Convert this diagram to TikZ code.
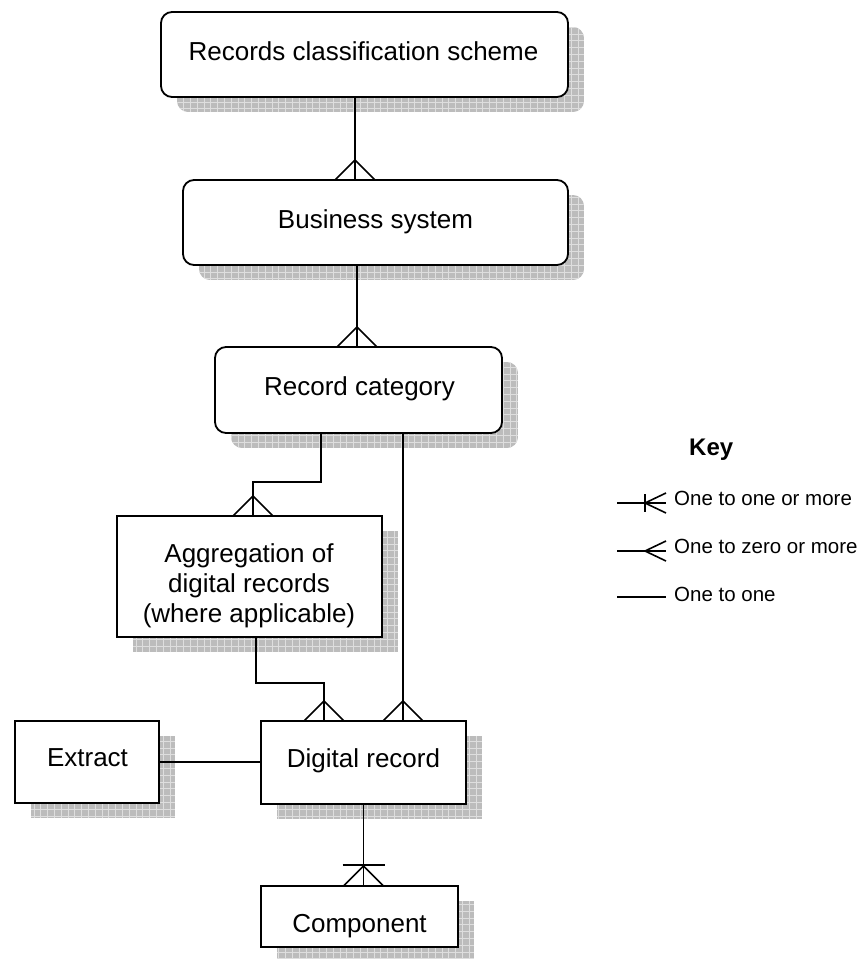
\documentclass[tikz,border=0pt]{standalone}
\usepackage{fontspec}
\setmainfont{Liberation Sans}
\usetikzlibrary{backgrounds,calc}
\definecolor{shadowfill}{RGB}{188,188,188}
\definecolor{shadowgrid}{RGB}{222,222,222}
\tikzset{
  ent/.style={draw=black, line width=1.8pt, fill=white, inner sep=0pt, outer sep=0pt},
  rent/.style={ent, rounded corners=11pt},
  lbl/.style={inner sep=0pt, anchor=base, font=\fontsize{26}{30}\selectfont},
  conn/.style={line width=1.6pt},
  keytext/.style={inner sep=0pt, anchor=base west, font=\fontsize{20.5}{24}\selectfont},
}
\newcommand\dropshadow[2]{%
  \begin{scope}
    \clip[rounded corners=#2] ($(#1.south west)+(16,15)$) rectangle ($(#1.north east)+(16,15)$);
    \fill[shadowfill] ($(#1.south west)+(16,15)$) rectangle ($(#1.north east)+(16,15)$);
    \draw[shadowgrid, line width=0.8pt, step=6.8pt] ($(#1.south west)+(16,15)$) grid ($(#1.north east)+(16,15)$);
  \end{scope}}
\newcommand\crowat[1]{\draw[conn] ($(#1)+(-20,0)$) -- ($(#1)+(0,-20)$) -- ($(#1)+(20,0)$);}
\begin{document}
\begin{tikzpicture}[x=1pt,y=-1pt]
\useasboundingbox (0,0) rectangle (860,959);
% entity boxes
\node[rent, minimum width=407pt, minimum height=85pt] (b1) at (364.5,54.5) {};
\node[rent, minimum width=385pt, minimum height=85pt] (b2) at (375.5,222.5) {};
\node[rent, minimum width=287pt, minimum height=86pt] (b3) at (358.5,390) {};
\node[ent, minimum width=265pt, minimum height=121pt] (b4) at (249.5,576.5) {};
\node[ent, minimum width=144pt, minimum height=82pt] (ex) at (87,762) {};
\node[ent, minimum width=205pt, minimum height=83pt] (dr) at (363.5,762.5) {};
\node[ent, minimum width=197pt, minimum height=61pt] (co) at (359.5,916.5) {};
% labels
\node[lbl] (b1t) at (363.5,60) {Records classification scheme};
\node[lbl] (b2t) at (375.5,228) {Business system};
\node[lbl] (b3t) at (359.5,395) {Record category};
\node[inner sep=0pt, align=center, font=\fontsize{26}{30}\selectfont] (b4t) at (249,585.3) {Aggregation of\\digital records\\(where applicable)};
\node[lbl] (ext) at (87.5,766) {Extract};
\node[lbl] (drt) at (363.5,767) {Digital record};
\node[lbl] (cot) at (359.5,932) {Component};
% shadows
\begin{scope}[on background layer]
  \dropshadow{b1}{11pt}
  \dropshadow{b2}{11pt}
  \dropshadow{b3}{11pt}
  \dropshadow{b4}{0pt}
  \dropshadow{ex}{0pt}
  \dropshadow{dr}{0pt}
  \dropshadow{co}{0pt}
\end{scope}
% connectors
\coordinate (p1) at ($(b1.south)+(-9.5,0)$);
\coordinate (f1) at (p1 |- b2.north);
\draw[conn] (p1) -- (f1); \crowat{f1}
\coordinate (p2) at ($(b2.south)+(-18.5,0)$);
\coordinate (f2) at (p2 |- b3.north);
\draw[conn] (p2) -- (f2); \crowat{f2}
\coordinate (p3) at ($(b3.south)+(-37.5,0)$);
\coordinate (f3) at ($(b4.north)+(3.5,0)$);
\draw[conn] (p3) -- ($(p3)+(0,49)$) -| (f3); \crowat{f3}
\coordinate (p4) at ($(b3.south)+(44.5,0)$);
\coordinate (f4) at (p4 |- dr.north);
\draw[conn] (p4) -- (f4); \crowat{f4}
\coordinate (p5) at ($(b4.south)+(6.5,0)$);
\coordinate (f5) at ($(dr.north)+(-39.5,0)$);
\draw[conn] (p5) |- ($(f5)+(0,-38)$) -- (f5); \crowat{f5}
\draw[conn] (ex.east) -- (ex.east -| dr.west);
\coordinate (f6) at (dr.south |- co.north);
\draw[conn] (dr.south) -- (f6); \crowat{f6}
\draw[conn] ($(f6)+(-21,-21)$) -- ($(f6)+(21,-21)$);
% key
\node[inner sep=0pt, anchor=base west, font=\bfseries\fontsize{24}{28}\selectfont] (key) at (689,455) {Key};
\node[keytext] (k1t) at (674,505) {One to one or more};
\node[keytext] (k2t) at (674,553) {One to zero or more};
\node[keytext] (k3t) at (674,601) {One to one};
\coordinate (k1a) at (617,503); \coordinate (k1b) at (666,503);
\draw[conn] (k1a) -- (k1b);
\draw[conn] ($(k1b)+(-21,-9)$) -- ($(k1b)+(-21,9)$);
\draw[conn] ($(k1b)+(0,-10)$) -- ($(k1b)+(-21,0)$) -- ($(k1b)+(0,10)$);
\coordinate (k2a) at (617,551); \coordinate (k2b) at (666,551);
\draw[conn] (k2a) -- (k2b);
\draw[conn] ($(k2b)+(0,-10)$) -- ($(k2b)+(-21,0)$) -- ($(k2b)+(0,10)$);
\coordinate (k3a) at (617,597); \coordinate (k3b) at (666,597);
\draw[conn] (k3a) -- (k3b);
\end{tikzpicture}
\end{document}
